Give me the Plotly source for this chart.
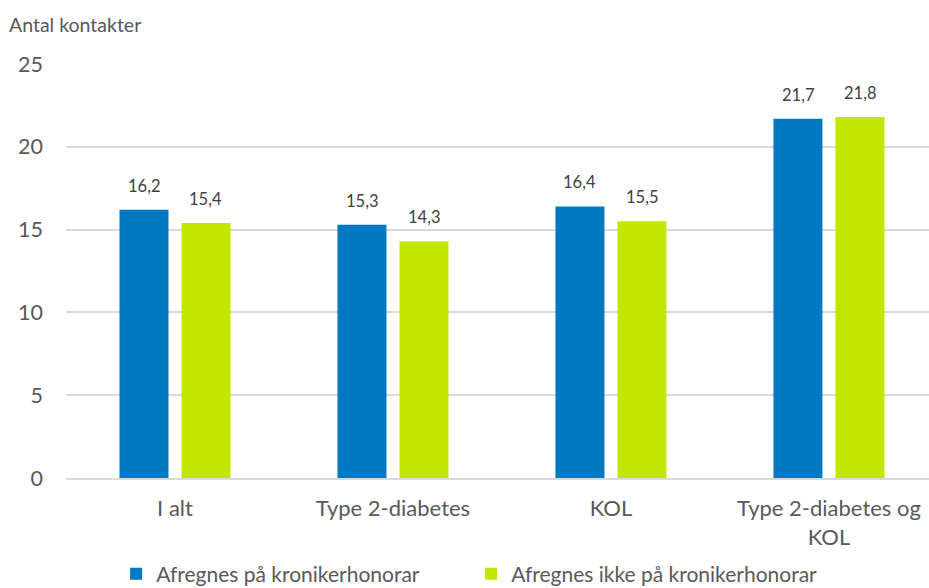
import plotly.graph_objects as go

categories = ["I alt", "Type 2-diabetes", "KOL", "Type 2-diabetes og<br>KOL"]
series_names = ["Afregnes på kronikerhonorar", "Afregnes ikke på kronikerhonorar"]
values_paa = [16.2, 15.3, 16.4, 21.7]
values_ikke = [15.4, 14.3, 15.5, 21.8]
y_ticks = [0, 5, 10, 15, 20, 25]

colors = ["#0079C2", "#C3E600"]
axis_text = "#595959"
label_text = "#404040"
font_family = "Lato, 'Open Sans', sans-serif"

fig = go.Figure()
for name, vals, col in zip(series_names, [values_paa, values_ikke], colors):
    fig.add_trace(go.Bar(
        x=categories, y=vals, name=name, marker_color=col,
        marker_line_width=0,
    ))

# value labels above each bar
for vals, shift in [(values_paa, -31), (values_ikke, 31)]:
    for c, v in zip(categories, vals):
        fig.add_annotation(
            x=c, y=v, text=f"{v:.1f}".replace(".", ","),
            showarrow=False, yanchor="bottom", xshift=shift, yshift=12,
            font=dict(size=16.5, color=label_text, family=font_family),
        )

fig.add_annotation(
    text="Antal kontakter", xref="paper", yref="paper",
    x=0, y=1.0, xshift=-59, yshift=40, xanchor="left", yanchor="middle",
    showarrow=False, font=dict(size=19.5, color=axis_text, family=font_family),
)

fig.update_layout(
    width=929, height=588,
    margin=dict(l=66, r=0, t=64, b=110, autoexpand=False),
    paper_bgcolor="white", plot_bgcolor="white",
    barmode="group", bargap=0.431, bargroupgap=0.21,
    font=dict(family=font_family, color=axis_text),
    showlegend=True,
    legend=dict(
        orientation="h", xref="container", yref="container",
        x=0.125, xanchor="left", y=14 / 588, yanchor="middle",
        font=dict(size=21, color=axis_text),
        entrywidth=310, entrywidthmode="pixels",
        itemwidth=30, tracegroupgap=0,
    ),
    xaxis=dict(
        range=[-0.5, 3.459], showgrid=False, showline=True,
        linecolor="#D9D9D9", linewidth=2, ticks="",
        ticklabelstandoff=10,
        tickfont=dict(size=22, color=axis_text),
    ),
    yaxis=dict(
        range=[0, 25], tickvals=y_ticks, showgrid=True,
        gridcolor="#D9D9D9", gridwidth=2, zeroline=False,
        showline=False, ticks="", ticklabelstandoff=22,
        tickfont=dict(size=21.5, color=axis_text),
    ),
)

fig.write_html("out.html")
